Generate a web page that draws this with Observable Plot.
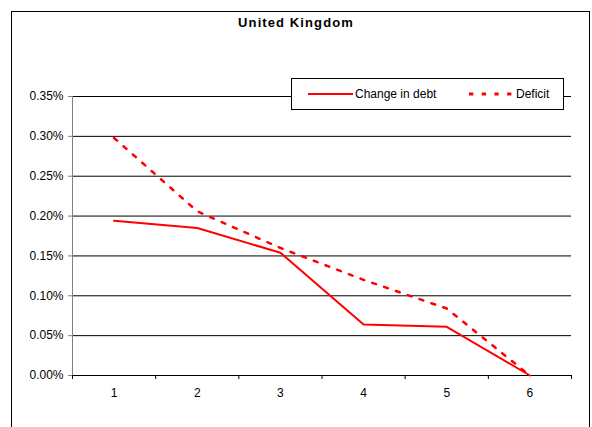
<!DOCTYPE html>
<html><head><meta charset="utf-8">
<script src="https://cdn.jsdelivr.net/npm/d3@7"></script>
<script src="https://cdn.jsdelivr.net/npm/@observablehq/plot@0.6"></script>
<style>
body{margin:0;background:#fff;font-family:"Liberation Sans",Arial,sans-serif}
#wrap{position:relative;width:592px;height:427px;overflow:hidden;background:#fff}
#frame{position:absolute;left:11px;top:11px;width:579px;height:440px;border:1px solid #000;box-sizing:border-box}
#title{position:absolute;left:0;width:592px;top:15px;text-align:center;font-weight:bold;font-size:13px;letter-spacing:1.1px;color:#000}
#chart{position:absolute;left:0;top:0}
#legend{position:absolute;left:291px;top:78px;width:273px;height:32px;border:1px solid #000;box-sizing:border-box;background:#fff;font-size:12px;color:#000}
#legend .item{position:absolute;top:0;height:30px;display:flex;align-items:center}
#legend svg{display:block}
</style></head>
<body>
<div id="wrap">
  <div id="frame"></div>
  <div id="title">United Kingdom</div>
  <div id="chart"></div>
  <div id="legend"></div>
</div>
<script>
const categories = [1, 2, 3, 4, 5, 6];
const changeInDebt = [0.00194, 0.00185, 0.00154, 0.00064, 0.00061, 0.0];
const deficit = [0.00298, 0.00206, 0.00160, 0.00120, 0.00084, 0.0];
const yTicks = [0, 0.0005, 0.001, 0.0015, 0.002, 0.0025, 0.003, 0.0035];
const xEdges = [0.5, 1.5, 2.5, 3.5, 4.5, 5.5, 6.5];
const seriesNames = ["Change in debt", "Deficit"];

const data = categories.map((c, i) => ({cat: c, debt: changeInDebt[i], deficit: deficit[i]}));

const chart = Plot.plot({
  width: 592,
  height: 427,
  marginLeft: 72,
  marginRight: 21,
  marginTop: 96,
  marginBottom: 52,
  style: {background: "transparent", fontFamily: "'Liberation Sans', Arial, sans-serif", fontSize: "12px", color: "#000"},
  x: {type: "linear", domain: [0.5, 6.5]},
  y: {domain: [0, 0.0035]},
  marks: [
    Plot.gridY({ticks: yTicks, stroke: "#000", strokeOpacity: 1, strokeWidth: 1}),
    Plot.ruleX([0.5], {stroke: "#808080"}),
    Plot.axisY({ticks: yTicks, tickSize: 4, tickPadding: 5, stroke: "#808080", fill: "#000", fontSize: 12,
      tickFormat: d => (d * 100).toFixed(2) + "%", label: null}),
    Plot.ruleY([0], {stroke: "#000"}),
    Plot.axisX({ticks: xEdges, tickSize: 4, tickFormat: () => "", stroke: "#000", label: null}),
    Plot.axisX({ticks: categories, tickSize: 0, tickPadding: 13, fontSize: 12, fill: "#000", tickFormat: d => String(d), label: null}),
    Plot.line(data, {x: "cat", y: "debt", stroke: "#ff0000", strokeWidth: 2}),
    Plot.line(data, {x: "cat", y: "deficit", stroke: "#ff0000", strokeWidth: 2.5, strokeDasharray: "4,8.5"})
  ]
});
document.getElementById("chart").appendChild(chart);

const legend = document.getElementById("legend");
legend.innerHTML = `
  <div class="item" style="left:16px"><svg width="46" height="6"><line x1="0" x2="45" y1="3" y2="3" stroke="#ff0000" stroke-width="2"/></svg><span style="margin-left:1px">${seriesNames[0]}</span></div>
  <div class="item" style="left:177px"><svg width="46" height="6"><line x1="0" x2="44" y1="3" y2="3" stroke="#ff0000" stroke-width="3" stroke-dasharray="4.3,8.4"/></svg><span style="margin-left:1px">${seriesNames[1]}</span></div>`;
</script>
</body></html>
